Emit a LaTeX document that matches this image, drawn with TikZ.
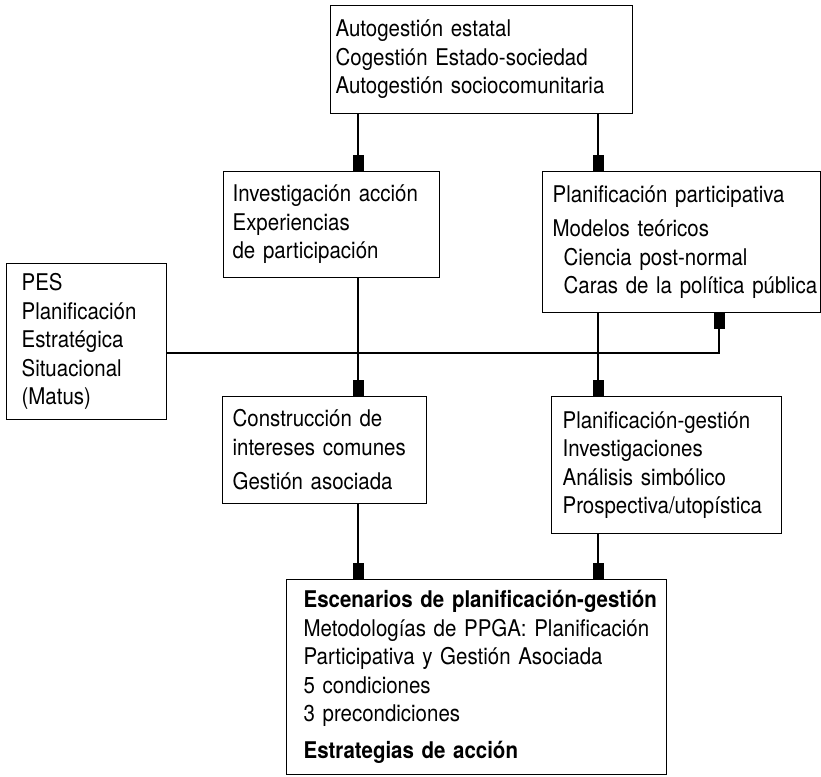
\documentclass[tikz,border=0pt]{standalone}
\usepackage{fontspec}
\setmainfont{TeX Gyre Heros}[FakeStretch=0.89]
\usetikzlibrary{arrows.meta}
\tikzset{
  box/.style={draw, line width=1.2pt, rectangle, anchor=north west, align=left,
    font=\fontsize{23}{28.5}\selectfont, inner ysep=0pt},
  conn/.style={line width=1.2pt, -{Rectangle[length=16pt,width=11pt]}}
}
\begin{document}
\begin{tikzpicture}[x=1pt,y=-1pt]
\useasboundingbox (0,0) rectangle (821,776);
\coordinate (xL) at (358,0);
\coordinate (xR) at (598,0);
\coordinate (xP) at (719,353);

\node[box, minimum width=302pt, minimum height=108pt, inner xsep=5pt, text width=292pt] (top) at (330,5)
  {\mbox{Autogestión estatal}\\ \mbox{Cogestión Estado-sociedad}\\ \mbox{Autogestión sociocomunitaria}};

\node[box, minimum width=216pt, minimum height=106pt, inner xsep=9pt, text width=198pt] (inv) at (223,171)
  {\mbox{Investigación acción}\\ \mbox{Experiencias}\\ \mbox{de participación}};

\node[box, minimum width=278pt, minimum height=141pt, inner xsep=10pt, text width=258pt] (pp) at (542,171)
  {\mbox{Planificación participativa}\\[6pt] \mbox{Modelos teóricos}\\ \mbox{\hspace*{11pt}Ciencia post-normal}\\ \mbox{\hspace*{11pt}Caras de la política pública}};

\node[box, minimum width=160pt, minimum height=156pt, inner xsep=15pt, text width=130pt] (pes) at (6,263)
  {\mbox{PES}\\ \mbox{Planificación}\\ \mbox{Estratégica}\\ \mbox{Situacional}\\ \mbox{(Matus)}};

\node[box, minimum width=204pt, minimum height=107pt, inner xsep=10pt, text width=184pt] (cons) at (222,396)
  {\mbox{Construcción de}\\ \mbox{intereses comunes}\\[6pt] \mbox{Gestión asociada}};

\node[box, minimum width=230pt, minimum height=137pt, inner xsep=11pt, text width=208pt] (pg) at (551,396)
  {\mbox{Planificación-gestión}\\ \mbox{Investigaciones}\\ \mbox{Análisis simbólico}\\ \mbox{Prospectiva/utopística}};

\node[box, minimum width=380pt, minimum height=195pt, inner xsep=17pt, text width=346pt] (esc) at (286,579)
  {\mbox{\bfseries Escenarios de planificación-gestión}\\ \mbox{Metodologías de PPGA: Planificación}\\ \mbox{Participativa y Gestión Asociada}\\ \mbox{5 condiciones}\\ \mbox{3 precondiciones}\\[8pt] \mbox{\bfseries Estrategias de acción}};

\draw[conn] (top.south -| xL) -- (inv.north -| xL);
\draw[conn] (top.south -| xR) -- (pp.north -| xR);
\draw[conn] (inv.south -| xL) -- (cons.north -| xL);
\draw[conn] (pp.south -| xR) -- (pg.north -| xR);
\draw[conn] (cons.south -| xL) -- (esc.north -| xL);
\draw[conn] (pg.south -| xR) -- (esc.north -| xR);
\draw[conn] (pes.east |- xP) -| (pp.south -| xP);
\end{tikzpicture}
\end{document}
